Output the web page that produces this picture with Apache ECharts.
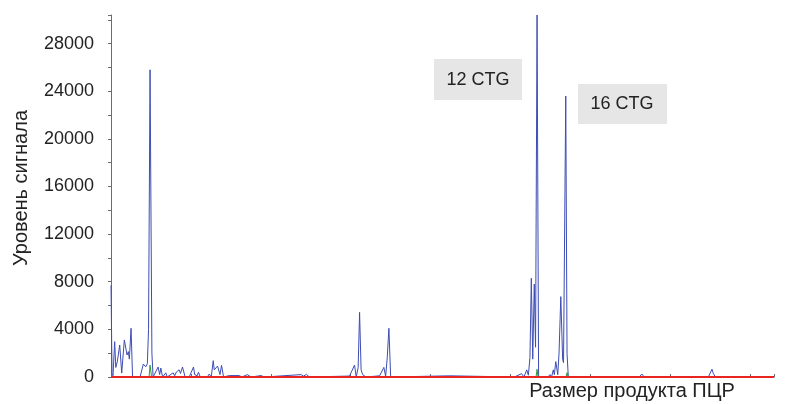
<!DOCTYPE html>
<html>
<head>
<meta charset="utf-8">
<script src="https://cdn.jsdelivr.net/npm/echarts@6/dist/echarts.min.js"></script>
<style>
  html, body { margin: 0; padding: 0; background: #fff; }
  #chart { width: 799px; height: 404px; }
</style>
</head>
<body>
<div id="chart"></div>
<script>
// размер (условные п.н.) / уровень сигнала
var bluePoints = [
  [0, 7700], [1.3, 300], [2.5, 100], [4.6, 2970], [6, 800], [7.9, 1290], [10.9, 2690], [13.4, 330],
  [16.7, 3110], [18.4, 3250], [20.1, 1850], [21.7, 2130], [23, 1500], [25.1, 4090], [27, 0],
  [28.9, 100], [31.4, 0], [33.9, 150], [36.4, 0], [40.5, 1090], [43.5, 850], [45.5, 1120],
  [47, 4000], [48.9, 25800], [51.2, 2000], [52.7, 0], [59, 840], [60.9, 200], [62.4, 750], [64.6, 0],
  [68.6, 350], [70.3, 0], [77.8, 350], [79.7, 100], [81.9, 420], [85.3, 600], [87, 300], [89.5, 840],
  [92.8, 0], [97.9, 0], [103.3, 840], [104.8, 200], [106.3, 330], [107.9, 100], [109.5, 400], [111.7, 0],
  [120.5, 0], [123, 250], [125.5, 0], [128, 1370], [129.2, 600], [130.5, 500], [133.4, 920],
  [136.4, 200], [138.4, 980], [140.9, 0], [148, 120], [150.5, 0], [160.6, 120], [164, 0],
  [170.6, 200], [173, 120], [175.5, 0], [187.8, 120], [189.8, 80], [192, 0],
  [238, 200], [241, 80], [244.7, 220], [248.4, 0], [298.6, 80], [301, 0], [304.9, 1000], [307, 0],
  [309.4, 800], [311.2, 5430], [313.1, 600], [315, 200], [317.5, 200], [319.3, 0], [336.3, 100],
  [338.8, 0], [341.6, 810], [343.8, 50], [345.9, 1700], [347.9, 4090], [350.1, 0], [424.1, 100],
  [426.6, 0], [505, 0], [514, 280], [516.9, 0], [520.5, 600], [522.5, 150], [524.5, 1650],
  [526.2, 8290], [528, 1500], [529.9, 7800], [531.5, 2500], [533.4, 30400], [535.3, 0], [547, 0],
  [549.6, 200], [551.5, 0], [553.7, 600], [555, 200], [556.8, 1290], [559.3, 200], [560.9, 2000],
  [563.1, 6750], [565.4, 1500], [566.5, 1200], [569.3, 23600], [570.9, 2000], [572.5, 0],
  [661.2, 0], [664.6, 250], [667.6, 0], [747.8, 0], [752.4, 650], [754, 300], [756.6, 0], [830, 0]
];
var greenPoints = [
  [0, 0], [47.7, 0], [48.9, 1000], [50.8, 0], [532.1, 0], [533.4, 650], [534.6, 0],
  [569.6, 0], [570.9, 360], [572.2, 0], [830, 0]
];
var redPoints = [
  [0, 0], [60, 0], [62, 60], [64, 0], [230, 0], [232, 50], [234, 0], [430, 0], [432, 50], [434, 0],
  [585, 0], [587, 50], [589, 0], [700, 0], [702, 40], [704, 0], [830, 0]
];
var yTicks = [0, 4000, 8000, 12000, 16000, 20000, 24000, 28000];
var peakLabels = ['12 CTG', '16 CTG'];
var yName = 'Уровень сигнала';
var xName = 'Размер продукта ПЦР';

var chart = echarts.init(document.getElementById('chart'));
var fontFamily = '"Liberation Sans", Arial, sans-serif';

var option = {
  animation: false,
  grid: {left: 111, right: 25, top: 15, bottom: 27},
  xAxis: [{
    type: 'value', position: 'top', min: 0, max: 830, interval: 100,
    axisLine: {show: true, lineStyle: {color: '#6d6d6d', width: 1}},
    axisTick: {show: true, length: 3, lineStyle: {color: '#6d6d6d'}},
    axisLabel: {show: false},
    splitLine: {show: false}
  }],
  yAxis: [{
    type: 'value', min: 0, max: 30400, interval: 2000,
    axisLine: {show: true, lineStyle: {color: '#6d6d6d', width: 1}},
    axisTick: {show: true, length: 3, lineStyle: {color: '#6d6d6d'}},
    axisLabel: {
      margin: 17, color: '#222', fontSize: 18, fontFamily: fontFamily,
      formatter: function (v) { return yTicks.indexOf(v) >= 0 ? String(v) : ''; }
    },
    splitLine: {show: false}
  }],
  series: [
    {
      name: 'blue', type: 'line', data: bluePoints, symbol: 'none', clip: true,
      lineStyle: {color: '#3d4db3', width: 1}
    },
    {
      name: 'green', type: 'line', data: greenPoints, symbol: 'none', clip: true,
      lineStyle: {color: '#2f9a3c', width: 1}
    },
    {
      name: 'red', type: 'line', data: redPoints, symbol: 'none', clip: false,
      lineStyle: {color: '#e8251f', width: 2}
    }
  ],
  graphic: [
    {type: 'rect', left: 434, top: 59, shape: {width: 88, height: 41}, style: {fill: '#e6e6e6'}},
    {type: 'text', x: 478, y: 80, style: {text: peakLabels[0], fill: '#222', fontSize: 18, fontFamily: fontFamily, align: 'center', verticalAlign: 'middle'}},
    {type: 'rect', left: 578, top: 84, shape: {width: 89, height: 40}, style: {fill: '#e6e6e6'}},
    {type: 'text', x: 622, y: 104, style: {text: peakLabels[1], fill: '#222', fontSize: 18, fontFamily: fontFamily, align: 'center', verticalAlign: 'middle'}},
    {type: 'text', x: 21, y: 188, rotation: Math.PI / 2, style: {text: yName, fill: '#222', fontSize: 20, fontFamily: fontFamily, align: 'center', verticalAlign: 'middle'}},
    {type: 'text', x: 632, y: 391, style: {text: xName, fill: '#222', fontSize: 20, fontFamily: fontFamily, align: 'center', verticalAlign: 'middle'}}
  ]
};
chart.setOption(option);
</script>
</body>
</html>
